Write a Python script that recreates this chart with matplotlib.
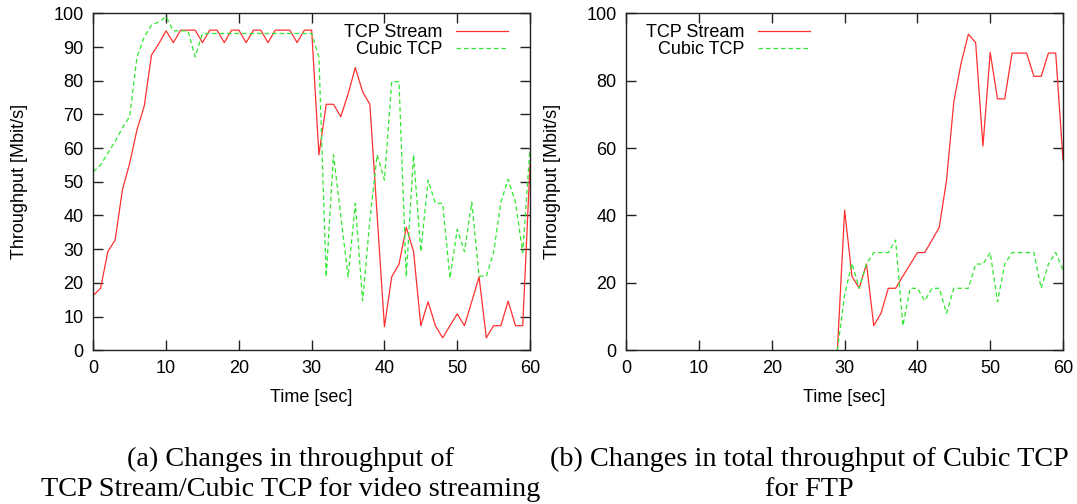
import matplotlib
matplotlib.use("Agg")
import matplotlib.pyplot as plt
import numpy as np

# time axis (seconds)
t_a = list(range(0, 61))
t_b = list(range(29, 61))

# (a) video streaming: TCP Stream vs Cubic TCP
stream_a = [16.3, 18.4, 29.3, 32.7, 47.6, 55.5, 65.4, 72.5, 87.6, 91.0,
            94.8, 91.3, 95, 95, 95, 91.3, 95, 95, 91.3, 95,
            95, 91.3, 95, 95, 91.3, 95, 95, 95, 91.3, 95,
            95, 58, 73, 73, 69.3, 76, 83.9, 76.7, 73, 40,
            7, 21.8, 25.5, 36.5, 29.3, 7.3, 14.4, 7.3, 3.7, 7.3,
            10.8, 7.3, 14.5, 21.8, 3.7, 7.3, 7.3, 14.6, 7.3, 7.3,
            55]
cubic_a = [53, 55, 58.5, 62, 66, 69.3, 87, 93, 96.5, 97.4,
           99, 94.8, 94.8, 94.8, 87.1, 94, 94, 94, 94, 94,
           94, 94, 94, 94, 94, 94, 94, 94, 94, 94,
           94, 87, 21.8, 58, 40, 21.8, 43.6, 14.7, 38.7, 58,
           50.5, 79.7, 79.7, 21.8, 58, 29.3, 50.5, 43.6, 43.6, 21.4,
           35.9, 29.3, 44, 22, 22, 29, 44, 50.7, 44, 29,
           60]

# (b) FTP: total throughput
stream_b = [0, 41.6, 22, 18.4, 25.6, 7.3, 11, 18.4, 18.4, 22,
            25.5, 29, 29, 32.7, 36.5, 50.5, 73.8, 85.2, 93.8, 91.3,
            60.6, 88.4, 74.6, 74.6, 88.2, 88.2, 88.2, 81.3, 81.3, 88.2,
            88.2, 56.5]
cubic_b = [0, 16.5, 25.8, 18.4, 25.6, 29, 29, 29, 32.7, 7.3,
           18.4, 18.4, 14.7, 18.4, 18.4, 11, 18.4, 18.4, 18.4, 25.6,
           25.6, 29, 14.4, 25.6, 29, 29, 29, 29, 18.4, 25.6,
           29, 23.8]

labels = ["TCP Stream", "Cubic TCP"]
captions = ["(a) Changes in throughput of\nTCP Stream/Cubic TCP for video streaming",
            "(b) Changes in total throughput of Cubic TCP\nfor FTP"]

plt.rcParams['font.family'] = ['Liberation Sans', 'DejaVu Sans']
fs = 13
W, H = 1077, 504
fig = plt.figure(figsize=(W / 100, H / 100), dpi=100)

red = '#ff3030'
green = '#30e830'


def setup(ax, yticks, legend_x):
    ax.set_xlim(0, 60)
    ax.set_ylim(0, 100)
    ax.set_xticks(range(0, 61, 10))
    ax.set_yticks(yticks)
    ax.tick_params(direction='in', length=7, width=1.0, color='#222222',
                   top=True, right=True, labelsize=fs, pad=7)
    for s in ax.spines.values():
        s.set_color('#222222')
        s.set_linewidth(1.0)
    ax.set_xlabel("Time [sec]", fontsize=fs)
    ax.set_ylabel("Throughput [Mbit/s]", fontsize=fs)
    ax.xaxis.set_label_coords(0.5, -0.115)
    ax.yaxis.set_label_coords(-0.149, 0.5)
    ax.legend(loc='upper right', bbox_to_anchor=(legend_x, 0.967),
              frameon=False, markerfirst=False, fontsize=fs,
              handlelength=2.9, handletextpad=0.72, labelspacing=0.0,
              borderpad=0, borderaxespad=0)


ax1 = fig.add_axes([93.3 / W, 1 - 350.3 / H, 436.7 / W, 337 / H])
ax1.plot(t_a, stream_a, color=red, lw=0.9, label=labels[0])
ax1.plot(t_a, cubic_a, color=green, lw=0.9, dashes=(3.6, 2.4), label=labels[1])
setup(ax1, range(0, 101, 10), 0.9496)

ax2 = fig.add_axes([626.3 / W, 1 - 350.3 / H, 436.7 / W, 337 / H])
ax2.plot(t_b, stream_b, color=red, lw=0.9, label=labels[0])
ax2.plot(t_b, cubic_b, color=green, lw=0.9, dashes=(3.6, 2.4), label=labels[1])
setup(ax2, range(0, 101, 20), 0.4207)

for x, cap in zip([291 / W, 809 / W], captions):
    fig.text(x, 1 - 474.5 / H, cap, ha='center', va='center', fontsize=20.3,
             family=['Liberation Serif', 'DejaVu Serif'], linespacing=1.24)

fig.savefig("out.png", dpi=100)
